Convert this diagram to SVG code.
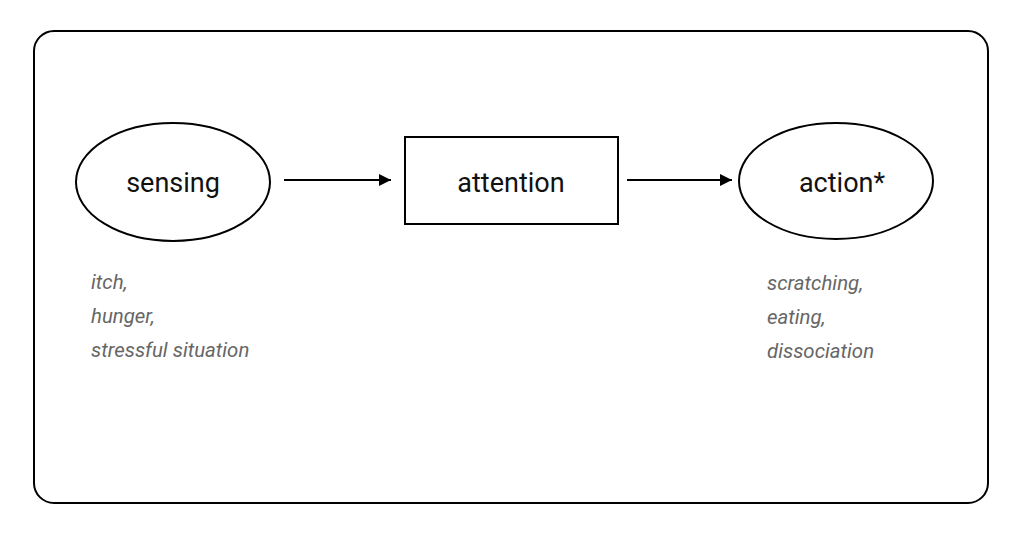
<svg xmlns="http://www.w3.org/2000/svg" width="1024" height="534" viewBox="0 0 1024 534">
<defs>
<marker id="arr" viewBox="0 0 10 10" refX="10" refY="5" markerWidth="12" markerHeight="12" markerUnits="userSpaceOnUse" orient="auto">
<path d="M0,0 L10,5 L0,10 z" fill="#000"/>
</marker>
<style>
.shape{fill:#fff;stroke:#000;stroke-width:2}
.lbl{font-family:Roboto,"Liberation Sans",sans-serif;font-size:27px;fill:#111;text-anchor:middle}
.note{font-family:Roboto,"Liberation Sans",sans-serif;font-style:italic;font-size:20.4px;fill:#666}
.conn{stroke:#000;stroke-width:2;fill:none}
</style>
</defs>
<rect width="1024" height="534" fill="#fff"/>
<rect id="frame" x="34" y="31" width="954" height="472" rx="20" ry="20" fill="#fff" stroke="#000" stroke-width="2"/>
<g id="sensing">
<ellipse class="shape" cx="173" cy="182" rx="97" ry="59"/>
<text class="lbl" x="173" y="192">sensing</text>
</g>
<g id="attention">
<rect class="shape" x="405" y="137" width="213" height="87"/>
<text class="lbl" x="511" y="192">attention</text>
</g>
<g id="action">
<ellipse class="shape" cx="836" cy="181" rx="97" ry="58"/>
<text class="lbl" x="842" y="192">action*</text>
</g>
<g id="sensing-notes">
<text class="note" x="91" y="289">itch,</text>
<text class="note" x="91" y="323">hunger,</text>
<text class="note" x="91" y="357">stressful situation</text>
</g>
<g id="action-notes">
<text class="note" x="767" y="290">scratching,</text>
<text class="note" x="767" y="324">eating,</text>
<text class="note" x="767" y="358">dissociation</text>
</g>
<g id="connectors">
<line class="conn" x1="284" y1="180" x2="391" y2="180" marker-end="url(#arr)"/>
<line class="conn" x1="627" y1="180" x2="732" y2="180" marker-end="url(#arr)"/>
</g>
</svg>
